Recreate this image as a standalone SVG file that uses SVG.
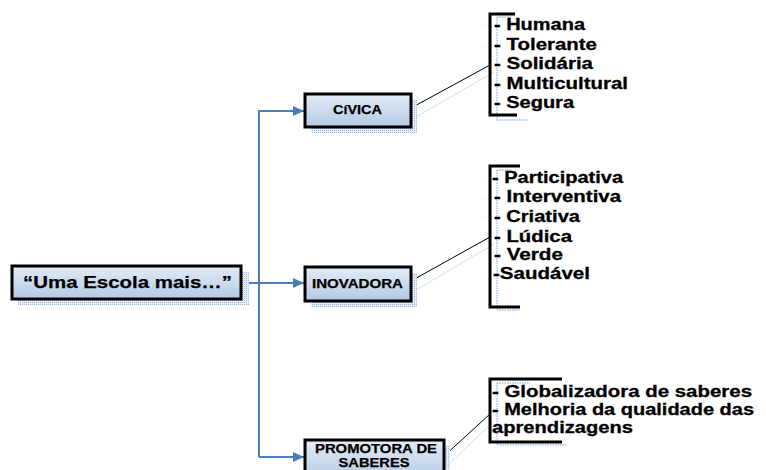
<svg xmlns="http://www.w3.org/2000/svg" width="766" height="470" viewBox="0 0 766 470">
<style>
.box{stroke:#000;stroke-width:3;fill:url(#g)}
.shadow{fill:url(#dots)}
.bt{font-family:"Liberation Sans",Arial,sans-serif;font-weight:bold;fill:#000;stroke:#000;stroke-width:0.25;text-anchor:middle}
.it{font-family:"Liberation Sans",Arial,sans-serif;font-weight:bold;font-size:16px;fill:#000;stroke:#000;stroke-width:0.3}
.blue{stroke:#4a7ebb;stroke-width:2;fill:none}
.link{stroke:#000;stroke-width:1;fill:none}
.faint{stroke:#d3e0f2;stroke-width:1;fill:none}
.brk{stroke:#000;stroke-width:3;fill:none}
.fr{stroke:#a9c1e3;stroke-width:1.5;stroke-dasharray:1.5 1;fill:none}
</style>
<defs>
<linearGradient id="g" x1="0" y1="0" x2="0" y2="1">
<stop offset="0" stop-color="#e4ecf6"/>
<stop offset="1" stop-color="#b4c9e4"/>
</linearGradient>
<pattern id="dots" width="2" height="2" patternUnits="userSpaceOnUse">
<rect width="2" height="2" fill="#e6eef8"/>
<rect width="1" height="1" fill="#9fb8dc"/>
</pattern>
<marker id="arr" markerUnits="userSpaceOnUse" markerWidth="11" markerHeight="10" refX="11" refY="5" orient="auto">
<path d="M0,0 L11,5 L0,10 z" fill="#4a7ebb"/>
</marker>
</defs>
<rect width="766" height="470" fill="#fff"/>

<g id="connectors">
<path class="blue" d="M241,283 H304" marker-end="url(#arr)"/>
<path class="blue" d="M259,457 V111 H304" marker-end="url(#arr)"/>
<path class="blue" d="M259,457 H304" marker-end="url(#arr)"/>
<line class="faint" x1="416" y1="117" x2="494" y2="72"/>
<line class="faint" x1="416" y1="290" x2="494" y2="244"/>
<line class="faint" x1="448" y1="465" x2="494" y2="421"/>
<line class="link" x1="411" y1="108" x2="490" y2="65"/>
<line class="link" x1="411" y1="281" x2="490" y2="237"/>
<line class="link" x1="443" y1="457" x2="490" y2="414"/>
</g>

<g id="main">
<rect class="shadow" x="18" y="272" width="231" height="33"/>
<rect class="box" x="12" y="266" width="229" height="33"/>
<text class="bt" x="127.5" y="288" font-size="17" textLength="209" lengthAdjust="spacingAndGlyphs">“Uma Escola mais…”</text>
</g>

<g id="civica">
<rect class="shadow" x="311" y="100" width="106" height="33"/>
<rect class="box" x="305" y="94" width="106" height="33"/>
<text class="bt" x="357.5" y="114" font-size="12.5" textLength="49" lengthAdjust="spacingAndGlyphs">CíVICA</text>
</g>

<g id="inovadora">
<rect class="shadow" x="311" y="273" width="106" height="34"/>
<rect class="box" x="305" y="267" width="106" height="34"/>
<text class="bt" x="357.5" y="288" font-size="12.5" textLength="91" lengthAdjust="spacingAndGlyphs">INOVADORA</text>
</g>

<g id="promotora">
<rect class="shadow" x="311" y="446" width="139" height="40"/>
<rect class="box" x="305" y="440" width="139" height="40"/>
<text class="bt" x="376" y="453" font-size="12.5" textLength="122" lengthAdjust="spacingAndGlyphs">PROMOTORA DE</text>
<text class="bt" x="374" y="467" font-size="12.5" textLength="71" lengthAdjust="spacingAndGlyphs">SABERES</text>
</g>

<g id="list-civica">
<path class="fr" d="M497,17 H512 M497,17 V120 H528"/>
<path class="brk" d="M515,14 H490 V115 H517"/>
<text class="it" x="494" y="30" textLength="91" lengthAdjust="spacingAndGlyphs">- Humana</text>
<text class="it" x="494" y="50" textLength="103" lengthAdjust="spacingAndGlyphs">- Tolerante</text>
<text class="it" x="494" y="69" textLength="99" lengthAdjust="spacingAndGlyphs">- Solidária</text>
<text class="it" x="494" y="89" textLength="134" lengthAdjust="spacingAndGlyphs">- Multicultural</text>
<text class="it" x="494" y="108" textLength="80" lengthAdjust="spacingAndGlyphs">- Segura</text>
</g>

<g id="list-inovadora">
<path class="fr" d="M497,170 H512 M497,170 V310 H520"/>
<path class="brk" d="M520,166 H490 V307 H520"/>
<text class="it" x="492" y="183" textLength="131" lengthAdjust="spacingAndGlyphs">- Participativa</text>
<text class="it" x="494" y="202" textLength="127" lengthAdjust="spacingAndGlyphs">- Interventiva</text>
<text class="it" x="494" y="222" textLength="86" lengthAdjust="spacingAndGlyphs">- Criativa</text>
<text class="it" x="494" y="242" textLength="78" lengthAdjust="spacingAndGlyphs">- Lúdica</text>
<text class="it" x="494" y="260" textLength="69" lengthAdjust="spacingAndGlyphs">- Verde</text>
<text class="it" x="493" y="279" textLength="97" lengthAdjust="spacingAndGlyphs">-Saudável</text>
</g>

<g id="list-promotora">
<path class="fr" d="M497,383 H530 M497,383 V445 H567"/>
<path class="brk" d="M562,379 H490 V442 H562"/>
<text class="it" x="492" y="397" textLength="260" lengthAdjust="spacingAndGlyphs">- Globalizadora de saberes</text>
<text class="it" x="492" y="415" textLength="262" lengthAdjust="spacingAndGlyphs">- Melhoria da qualidade das</text>
<text class="it" x="492" y="433" textLength="141" lengthAdjust="spacingAndGlyphs">aprendizagens</text>
</g>
</svg>
